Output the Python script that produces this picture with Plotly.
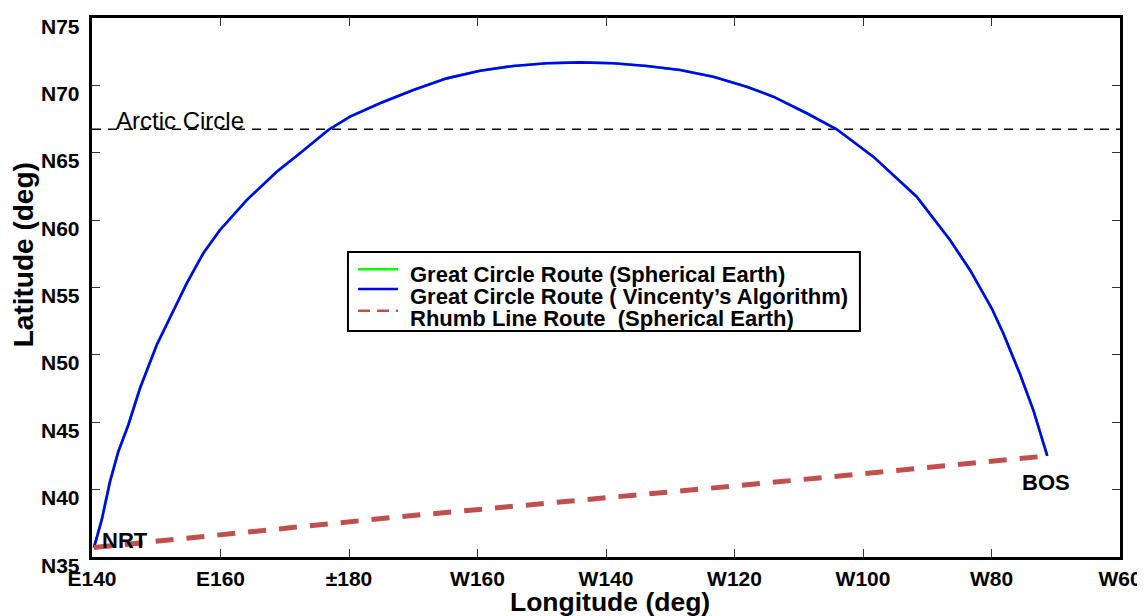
import plotly.graph_objects as go

# ---- data ----
gc_lon = [140.3, 141.51, 142.80, 144.09, 145.65, 147.47, 150.07, 152.65, 154.74, 157.32,
          159.92, 164.08, 168.75, 172.37, 176.78, 180.16, 184.82, 190.01, 195.21, 200.39,
          205.57, 210.77, 215.95, 221.14, 226.34, 231.53, 236.70, 241.90, 246.04, 251.24,
          255.91, 261.60, 268.36, 273.54, 276.65, 280.03, 281.83, 284.43, 286.50, 288.68]
gc_lat = [35.70, 37.75, 40.59, 42.81, 44.80, 47.52, 50.73, 53.33, 55.31, 57.54,
          59.27, 61.49, 63.59, 64.96, 66.69, 67.68, 68.67, 69.66, 70.52, 71.09,
          71.44, 71.64, 71.71, 71.64, 71.44, 71.14, 70.64, 69.90, 69.16, 67.93,
          66.74, 64.71, 61.74, 58.52, 56.30, 53.46, 51.60, 48.58, 45.91, 42.50]
rhumb_lon = [140.3, 187.9, 241.6, 288.68]
rhumb_lat = [35.70, 37.99, 40.34, 42.50]
arctic_lat = 66.74
x_ticks = [140, 160, 180, 200, 220, 240, 260, 280, 300]
x_labels = ["E140", "E160", "±180", "W160", "W140", "W120", "W100", "W80", "W60"]
y_ticks = [35, 40, 45, 50, 55, 60, 65, 70, 75]
y_labels = ["N35", "N40", "N45", "N50", "N55", "N60", "N65", "N70", "N75"]
legend_names = ["Great Circle Route (Spherical Earth)",
                "Great Circle Route ( Vincenty’s Algorithm)",
                "Rhumb Line Route  (Spherical Earth)"]
legend_colors = ["#00ff00", "#0000ff", "#c0504d"]
cities = ["NRT", "BOS"]
city_lon = [145.1, 288.5]
city_lat = [36.26, 40.53]

FONT = "Liberation Sans, Arial, sans-serif"
fig = go.Figure()

# Arctic circle
fig.add_trace(go.Scatter(x=[x_ticks[0], x_ticks[-1]], y=[arctic_lat, arctic_lat], mode="lines",
                         line=dict(color="black", width=1.6, dash="9px,7px"),
                         showlegend=False, hoverinfo="skip"))
# spherical great circle (under) and Vincenty (over)
fig.add_trace(go.Scatter(x=gc_lon, y=gc_lat, mode="lines", name=legend_names[0],
                         line=dict(color=legend_colors[0], width=2.6), showlegend=False))
fig.add_trace(go.Scatter(x=gc_lon, y=gc_lat, mode="lines", name=legend_names[1],
                         line=dict(color=legend_colors[1], width=2.6), showlegend=False))
fig.add_trace(go.Scatter(x=rhumb_lon, y=rhumb_lat, mode="lines", name=legend_names[2],
                         line=dict(color=legend_colors[2], width=5, dash="18px,13px"),
                         showlegend=False))

annotations = []
annotations.append(dict(x=143.4, y=67.36, xref="x", yref="y", text="Arctic Circle",
                        showarrow=False, xanchor="left", yanchor="middle",
                        font=dict(family=FONT, size=24, color="black")))
for name, lx, ly in zip(cities, city_lon, city_lat):
    annotations.append(dict(x=lx, y=ly, xref="x", yref="y", text="<b>%s</b>" % name,
                            showarrow=False, xanchor="center", yanchor="middle",
                            font=dict(family=FONT, size=22, color="black")))

# y tick labels (drawn slightly below their ticks, as in the reference)
for val, lab in zip(y_ticks, y_labels):
    annotations.append(dict(x=0, y=val, xref="paper", yref="y", text="<b>%s</b>" % lab,
                            showarrow=False, xanchor="right", yanchor="middle",
                            xshift=-10, yshift=-8,
                            font=dict(family=FONT, size=21, color="black")))

# axis titles
annotations.append(dict(x=0.5039, y=-0.083, xref="paper", yref="paper",
                        text="<b>Longitude (deg)</b>", showarrow=False,
                        xanchor="center", yanchor="middle",
                        font=dict(family=FONT, size=26.5, color="black")))
annotations.append(dict(x=-0.067, y=0.56, xref="paper", yref="paper",
                        text="<b>Latitude (deg)</b>", showarrow=False, textangle=-90,
                        xanchor="center", yanchor="middle",
                        font=dict(family=FONT, size=28, color="black")))

# manual legend
shapes = [dict(type="rect", xref="paper", yref="paper", x0=0.249, x1=0.747, y0=0.4193, y1=0.5659,
               line=dict(color="black", width=2), fillcolor="white", layer="above")]
leg_line_y = [0.5338, 0.4972, 0.4570]
leg_text_y = [0.5232, 0.4824, 0.4416]
leg_dash = ["solid", "solid", "12px,7px"]
for i in range(3):
    shapes.append(dict(type="line", xref="paper", yref="paper", x0=0.2588, x1=0.2977,
                       y0=leg_line_y[i], y1=leg_line_y[i],
                       line=dict(color=legend_colors[i], width=2.5, dash=leg_dash[i]), layer="above"))
    annotations.append(dict(x=0.3074, y=leg_text_y[i], xref="paper", yref="paper",
                            text="<b>%s</b>" % legend_names[i], showarrow=False,
                            xanchor="left", yanchor="middle",
                            font=dict(family=FONT, size=22, color="black")))

axis_common = dict(showline=True, linecolor="black", linewidth=3, mirror="ticks",
                   ticks="inside", ticklen=8, tickwidth=1, tickcolor="#333333",
                   showgrid=False, zeroline=False, automargin=False,
                   tickfont=dict(family=FONT, size=21, color="black"))

# the page body adds an 8px offset, so margins are reduced accordingly
fig.update_layout(
    width=1145, height=616,
    margin=dict(l=84, r=33, t=10, b=67),
    paper_bgcolor="white", plot_bgcolor="white",
    xaxis=dict(range=[140, 300], tickvals=x_ticks,
               ticktext=["<b>%s</b>" % t for t in x_labels], ticklabelstandoff=1,
               **axis_common),
    yaxis=dict(range=[35, 75], tickvals=y_ticks, showticklabels=False, **axis_common),
    annotations=annotations, shapes=shapes, showlegend=False,
)

fig.write_html("out.html")
